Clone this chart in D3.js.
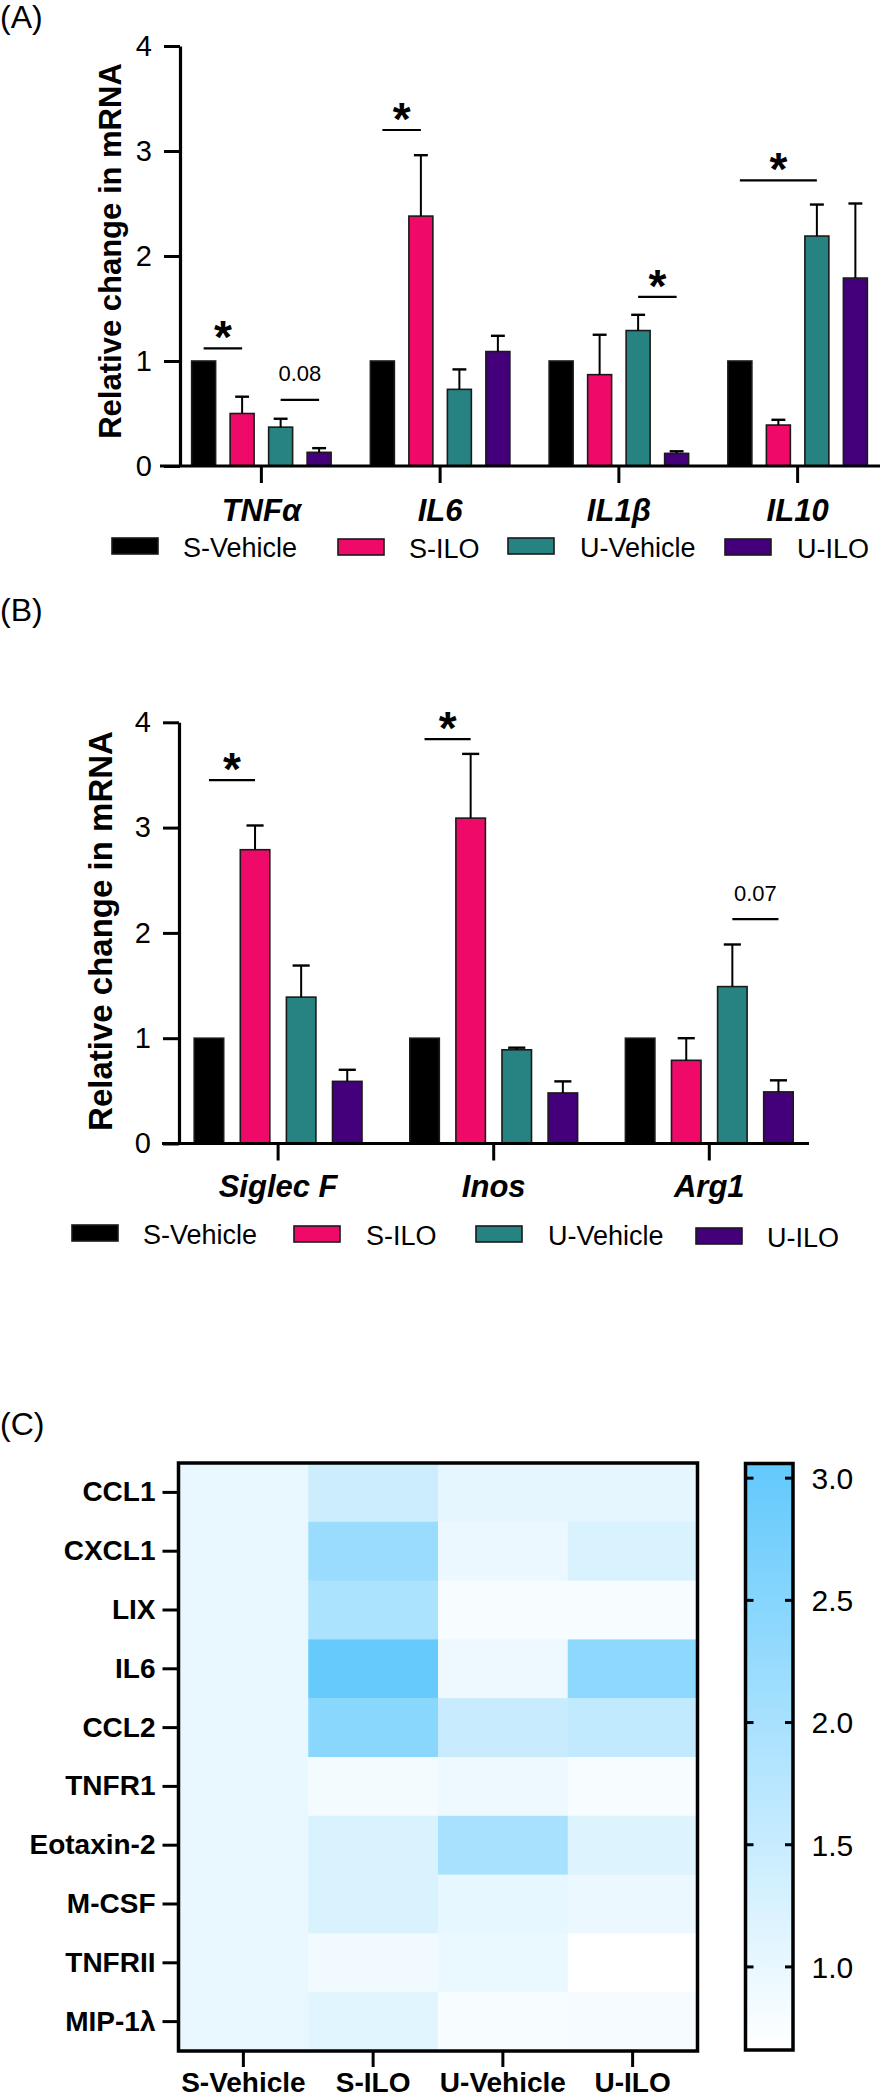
<!DOCTYPE html>
<html><head><meta charset="utf-8">
<script src="https://cdn.jsdelivr.net/npm/d3@7"></script>
<style>
body{margin:0;background:#fff}
svg{display:block}
text{font-family:"Liberation Sans",Arial,Helvetica,sans-serif;fill:#000}
</style>
</head><body>
<svg id="chart" width="881" height="2100"></svg>
<script>
// ---------------- DATA ----------------
const series = ["S-Vehicle", "S-ILO", "U-Vehicle", "U-ILO"];
const seriesColors = ["#000000", "#ef0a6a", "#268381", "#43007a"];

// Panel A
const genesA = ["TNFα", "IL6", "IL1β", "IL10"];
const sVehicleA = [1, 1, 1, 1];
const sIloA = [0.50, 2.38, 0.87, 0.39];
const uVehicleA = [0.37, 0.73, 1.29, 2.19];
const uIloA = [0.13, 1.09, 0.12, 1.79];
const sVehicleSemA = [0, 0, 0, 0];
const sIloSemA = [0.16, 0.58, 0.38, 0.05];
const uVehicleSemA = [0.08, 0.19, 0.15, 0.30];
const uIloSemA = [0.04, 0.15, 0.02, 0.71];
const sigA = [
  {group: 0, from: 0, to: 1, value: 1.12, label: "*"},
  {group: 0, from: 2, to: 3, value: 0.63, label: "0.08"},
  {group: 1, from: 0, to: 1, value: 3.20, label: "*"},
  {group: 2, from: 2, to: 3, value: 1.61, label: "*"},
  {group: 3, from: 0, to: 2, value: 2.72, label: "*"}
];

// Panel B
const genesB = ["Siglec F", "Inos", "Arg1"];
const sVehicleB = [1, 1, 1];
const sIloB = [2.79, 3.09, 0.79];
const uVehicleB = [1.39, 0.89, 1.49];
const uIloB = [0.59, 0.48, 0.49];
const sVehicleSemB = [0, 0, 0];
const sIloSemB = [0.23, 0.61, 0.21];
const uVehicleSemB = [0.30, 0.02, 0.40];
const uIloSemB = [0.11, 0.11, 0.11];
const sigB = [
  {group: 0, from: 0, to: 1, value: 3.45, label: "*"},
  {group: 1, from: 0, to: 1, value: 3.84, label: "*"},
  {group: 2, from: 2, to: 3, value: 2.13, label: "0.07"}
];

const yTicks = [0, 1, 2, 3, 4];

// Panel C (heatmap)
const cytokines = ["CCL1", "CXCL1", "LIX", "IL6", "CCL2", "TNFR1", "Eotaxin-2", "M-CSF", "TNFRII", "MIP-1λ"];
const groupsC = ["S-Vehicle", "S-ILO", "U-Vehicle", "U-ILO"];
const sVehicleC = [1, 1, 1, 1, 1, 1, 1, 1, 1, 1];
const sIloC = [1.45, 2.20, 1.95, 3.00, 2.45, 0.83, 1.25, 1.25, 0.88, 1.12];
const uVehicleC = [1.05, 0.95, 0.80, 0.93, 1.50, 0.93, 2.00, 1.02, 0.98, 0.80];
const uIloC = [1.06, 1.25, 0.80, 2.40, 1.60, 0.80, 1.18, 0.95, 0.66, 0.82];
const colorDomain = [0.66, 3.06];
const colorTicks = [1.0, 1.5, 2.0, 2.5, 3.0];

// ---------------- DRAW ----------------
const svg = d3.select("#chart");

function barPanel(cfg) {
  const g = svg.append("g");
  const y = d3.scaleLinear().domain([0, 4]).range([cfg.y0, cfg.yTop]);
  const x0 = d3.scaleBand().domain(cfg.groups).range(cfg.xRange);
  const x1 = d3.scaleBand().domain(series).range([-cfg.half, cfg.half])
    .paddingInner(cfg.pad).paddingOuter(cfg.pad / 2);
  const cx = (gi, si) => x0(cfg.groups[gi]) + x0.bandwidth() / 2 + x1(series[si]) + x1.bandwidth() / 2;

  const data = [];
  cfg.groups.forEach((grp, gi) => series.forEach((s, si) => {
    data.push({gi, si, v: cfg.means[si][gi], e: cfg.sems[si][gi]});
  }));

  // bars
  g.selectAll("rect.bar").data(data).join("rect")
    .attr("class", "bar")
    .attr("x", d => cx(d.gi, d.si) - x1.bandwidth() / 2)
    .attr("width", x1.bandwidth())
    .attr("y", d => y(d.v))
    .attr("height", d => y(0) - y(d.v))
    .attr("fill", d => seriesColors[d.si])
    .attr("stroke", "#1a1a1a").attr("stroke-width", 1.6);

  // error bars
  const eb = data.filter(d => d.e > 0);
  const capW = x1.bandwidth() * 0.58;
  g.selectAll("line.err").data(eb).join("line")
    .attr("x1", d => cx(d.gi, d.si)).attr("x2", d => cx(d.gi, d.si))
    .attr("y1", d => y(d.v)).attr("y2", d => y(d.v + d.e))
    .attr("stroke", "#000").attr("stroke-width", 2);
  g.selectAll("line.cap").data(eb).join("line")
    .attr("x1", d => cx(d.gi, d.si) - capW / 2).attr("x2", d => cx(d.gi, d.si) + capW / 2)
    .attr("y1", d => y(d.v + d.e)).attr("y2", d => y(d.v + d.e))
    .attr("stroke", "#000").attr("stroke-width", 2.4);

  // significance
  cfg.sig.forEach(s => {
    const xa = cx(s.group, s.from), xb = cx(s.group, s.to);
    const yy = y(s.value);
    g.append("line").attr("x1", xa).attr("x2", xb).attr("y1", yy).attr("y2", yy)
      .attr("stroke", "#000").attr("stroke-width", 2.2);
    if (s.label === "*") {
      g.append("text").attr("x", (xa + xb) / 2).attr("y", yy + 5)
        .attr("text-anchor", "middle").attr("font-size", 46).attr("font-weight", "bold")
        .text("*");
    } else {
      g.append("text").attr("x", (xa + xb) / 2).attr("y", yy - 18.5)
        .attr("text-anchor", "middle").attr("font-size", 22)
        .text(s.label);
    }
  });

  // y axis
  const ya = g.append("g").attr("transform", `translate(${cfg.yAxisX},0)`)
    .call(d3.axisLeft(y).tickValues(yTicks).tickFormat(d3.format("d"))
      .tickSize(16).tickPadding(12).tickSizeOuter(0));
  ya.select(".domain").attr("stroke-width", 3.2);
  ya.selectAll(".tick line").attr("stroke-width", 3);
  ya.selectAll(".tick text").attr("font-size", 29).attr("font-family", null);

  // x axis line
  g.append("line").attr("x1", cfg.xAxisStart).attr("x2", cfg.xAxisEnd)
    .attr("y1", cfg.y0).attr("y2", cfg.y0).attr("stroke", "#000").attr("stroke-width", 3.2);
  const xa = g.append("g").attr("transform", `translate(0,${cfg.y0})`)
    .call(d3.axisBottom(x0).tickSize(17).tickPadding(cfg.labelPad).tickSizeOuter(0));
  xa.select(".domain").remove();
  xa.selectAll(".tick line").attr("stroke-width", 3);
  xa.selectAll(".tick text").attr("font-size", 31).attr("font-weight", "bold")
    .attr("font-style", "italic").attr("font-family", null);

  // y title
  g.append("text")
    .attr("transform", `translate(${cfg.titleX},${cfg.titleY}) rotate(-90)`)
    .attr("text-anchor", "middle").attr("font-size", cfg.titleSize).attr("font-weight", "bold")
    .text("Relative change in mRNA");

  // legend
  series.forEach((s, i) => {
    g.append("rect").attr("x", cfg.legSwX[i]).attr("y", cfg.legY[i])
      .attr("width", 46).attr("height", 16)
      .attr("fill", seriesColors[i]).attr("stroke", "#1a1a1a").attr("stroke-width", 1.6);
    g.append("text").attr("x", cfg.legTxX[i]).attr("y", cfg.legY[i] + 18.5)
      .attr("font-size", 27).text(s);
  });

  // panel letter
  g.append("text").attr("x", 0).attr("y", cfg.letterY).attr("font-size", 32).text(cfg.letter);
}

barPanel({
  groups: genesA,
  means: [sVehicleA, sIloA, uVehicleA, uIloA],
  sems: [sVehicleSemA, sIloSemA, uVehicleSemA, uIloSemA],
  sig: sigA,
  y0: 466, yTop: 46,
  xRange: [172, 887], half: 77, pad: 0.377,
  yAxisX: 180, xAxisStart: 160, xAxisEnd: 880, labelPad: 16,
  titleX: 120.5, titleY: 251, titleSize: 31,
  legSwX: [112, 338, 508, 725], legTxX: [183, 409, 580, 797], legY: [538, 539, 538, 539],
  letter: "(A)", letterY: 28
});

barPanel({
  groups: genesB,
  means: [sVehicleB, sIloB, uVehicleB, uIloB],
  sems: [sVehicleSemB, sIloSemB, uVehicleSemB, uIloSemB],
  sig: sigB,
  y0: 1143.5, yTop: 722.3,
  xRange: [170.3, 817.1], half: 92.2, pad: 0.36,
  yAxisX: 179, xAxisStart: 162, xAxisEnd: 809, labelPad: 14.5,
  titleX: 112, titleY: 931, titleSize: 33,
  legSwX: [72, 294, 476, 696], legTxX: [143, 366, 548, 767], legY: [1225, 1226, 1226, 1228],
  letter: "(B)", letterY: 621
});

// ---------------- HEATMAP ----------------
(function heatmap() {
  const g = svg.append("g");
  const hx = d3.scaleBand().domain(groupsC).range([178.5, 697.5]);
  const hy = d3.scaleBand().domain(cytokines).range([1463, 2051]);
  const color = d3.scaleLinear().domain(colorDomain).range(["#ffffff", "#62c9fc"]).clamp(true);
  const cols = [sVehicleC, sIloC, uVehicleC, uIloC];
  const cells = [];
  cytokines.forEach((c, i) => groupsC.forEach((gc, j) => cells.push({c, gc, v: cols[j][i]})));

  g.selectAll("rect.cell").data(cells).join("rect")
    .attr("class", "cell")
    .attr("x", d => hx(d.gc)).attr("y", d => hy(d.c))
    .attr("width", hx.bandwidth() + 0.5).attr("height", hy.bandwidth() + 0.5)
    .attr("fill", d => color(d.v));
  g.append("rect").attr("x", 178.5).attr("y", 1463).attr("width", 519).attr("height", 588)
    .attr("fill", "none").attr("stroke", "#000").attr("stroke-width", 3.5);

  const ra = g.append("g").attr("transform", "translate(178.5,0)")
    .call(d3.axisLeft(hy).tickSize(16).tickPadding(7).tickSizeOuter(0));
  ra.select(".domain").remove();
  ra.selectAll(".tick line").attr("stroke-width", 3);
  ra.selectAll(".tick text").attr("font-size", 28).attr("font-weight", "bold").attr("font-family", null);

  const ca = g.append("g").attr("transform", "translate(0,2051)")
    .call(d3.axisBottom(hx).tickSize(16).tickPadding(5).tickSizeOuter(0));
  ca.select(".domain").remove();
  ca.selectAll(".tick line").attr("stroke-width", 3);
  ca.selectAll(".tick text").attr("font-size", 28).attr("font-weight", "bold").attr("font-family", null);

  // colorbar
  const cbX = 745.5, cbW = 47.5;
  const cb = d3.scaleLinear().domain(colorDomain).range([2050, 1463.5]);
  const defs = svg.append("defs");
  const grad = defs.append("linearGradient").attr("id", "cbgrad")
    .attr("x1", 0).attr("y1", 1).attr("x2", 0).attr("y2", 0);
  d3.range(0, 1.0001, 0.1).forEach(t => {
    const v = colorDomain[0] + t * (colorDomain[1] - colorDomain[0]);
    grad.append("stop").attr("offset", t).attr("stop-color", color(v));
  });
  g.append("rect").attr("x", cbX).attr("y", cb(colorDomain[1])).attr("width", cbW)
    .attr("height", cb(colorDomain[0]) - cb(colorDomain[1]))
    .attr("fill", "url(#cbgrad)").attr("stroke", "#000").attr("stroke-width", 3.5);
  const ct = g.selectAll("g.ct").data(colorTicks).join("g").attr("class", "ct");
  ct.append("line").attr("x1", cbX).attr("x2", cbX + 8)
    .attr("y1", d => cb(d)).attr("y2", d => cb(d)).attr("stroke", "#000").attr("stroke-width", 3);
  ct.append("line").attr("x1", cbX + cbW - 8).attr("x2", cbX + cbW)
    .attr("y1", d => cb(d)).attr("y2", d => cb(d)).attr("stroke", "#000").attr("stroke-width", 3);
  ct.append("text").attr("x", 811.5).attr("y", d => cb(d)).attr("dy", "0.36em")
    .attr("font-size", 30).text(d => d3.format(".1f")(d));

  g.append("text").attr("x", 0).attr("y", 1435).attr("font-size", 32).text("(C)");
})();
</script>
</body></html>
